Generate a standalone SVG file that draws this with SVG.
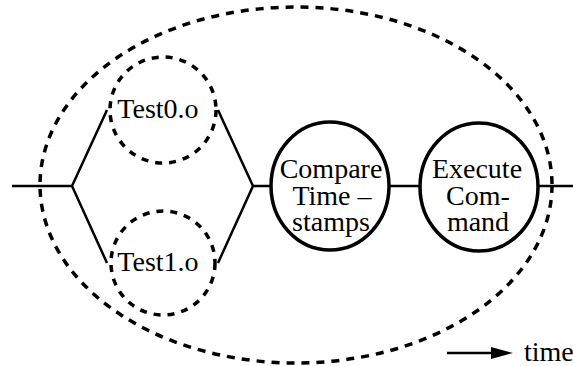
<svg xmlns="http://www.w3.org/2000/svg" width="573" height="366" viewBox="0 0 573 366">
<defs>
<style>
.line{stroke:#000;stroke-width:2.5;fill:none}
.dash{stroke:#000;stroke-width:3.5;fill:none;stroke-dasharray:8 7}
.sdash{stroke:#000;stroke-width:3.5;fill:none;stroke-dasharray:7 7}
.solid{stroke:#000;stroke-width:3.5;fill:#fff}
.t{font-family:'Liberation Serif','DejaVu Serif',serif;font-size:28px;fill:#000;text-anchor:middle}
</style>
</defs>
<g id="connectors">
<path class="line" d="M12,186 H72 L107,110 M72,186 L107,263 M218,110 L253,186 M218,263 L253,186 M253,186 H271 M389,186 H420 M538,186 H573"/>
<line class="line" x1="447" y1="353" x2="503" y2="353"/>
<path d="M491,347 L513,353 L491,359 Z" fill="#000"/>
</g>
<g id="group">
<ellipse class="dash" cx="296" cy="185" rx="256" ry="178"/>
</g>
<g id="test0">
<circle class="sdash" cx="163" cy="110" r="53"/>
<text class="t" x="158" y="118" font-size="27">Test0.o</text>
</g>
<g id="test1">
<circle class="sdash" cx="163" cy="263" r="52"/>
<text class="t" x="158" y="271" font-size="27">Test1.o</text>
</g>
<g id="compare">
<ellipse class="solid" cx="330" cy="186" rx="59" ry="64"/>
<text class="t" x="331" y="178">Compare</text>
<text class="t" x="332" y="205">Time –</text>
<text class="t" x="331" y="231">stamps</text>
</g>
<g id="execute">
<ellipse class="solid" cx="479" cy="187" rx="59" ry="64"/>
<text class="t" x="477" y="178">Execute</text>
<text class="t" x="478" y="205">Com-</text>
<text class="t" x="478" y="231">mand</text>
</g>
<g id="legend">
<text class="t" x="524" y="361" font-size="25" style="text-anchor:start">time</text>
</g>
</svg>
